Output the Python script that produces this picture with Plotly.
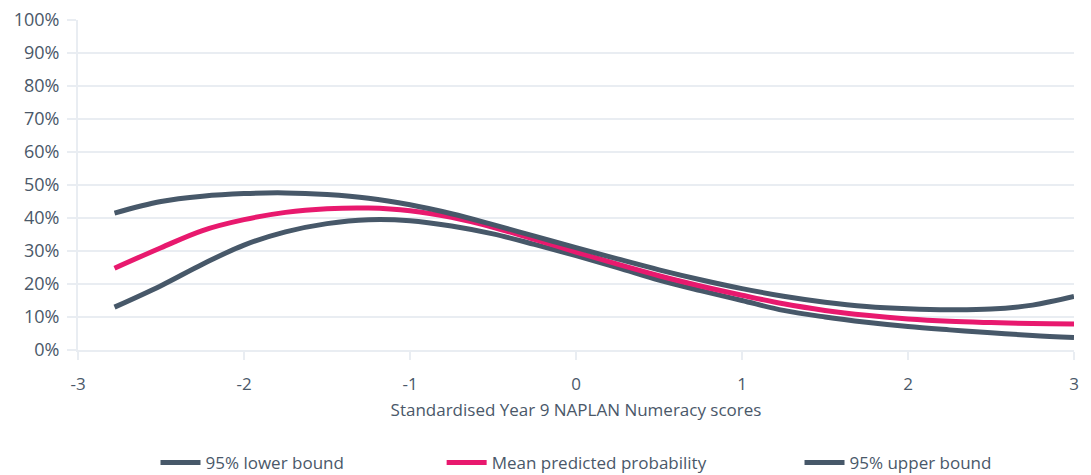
import plotly.graph_objects as go

x_scores = [-2.78, -2.5, -2.25, -2.0, -1.75, -1.5, -1.25, -1.0, -0.75, -0.5, -0.25, 0.0,
            0.25, 0.5, 0.75, 1.0, 1.25, 1.5, 1.75, 2.0, 2.25, 2.5, 2.75, 3.0]

lower_bound = [13.0, 19.5, 26.0, 31.8, 35.8, 38.3, 39.5, 39.2, 37.6, 35.2, 32.0, 28.6,
               25.0, 21.2, 18.0, 15.0, 12.0, 10.0, 8.4, 7.1, 6.1, 5.2, 4.4, 3.8]

mean_prob = [24.8, 31.0, 36.2, 39.5, 41.7, 42.8, 43.0, 42.2, 40.2, 37.2, 33.5, 29.7,
             26.0, 22.5, 19.4, 16.6, 14.0, 12.0, 10.5, 9.4, 8.7, 8.3, 8.0, 7.9]

upper_bound = [41.5, 45.0, 46.6, 47.4, 47.6, 47.1, 46.0, 44.0, 41.3, 38.0, 34.5, 31.0,
               27.6, 24.3, 21.3, 18.6, 16.3, 14.5, 13.2, 12.5, 12.2, 12.4, 13.6, 16.2]

series_names = ["95% lower bound", "Mean predicted probability", "95% upper bound"]
x_ticks = [-3, -2, -1, 0, 1, 2, 3]
y_ticks = list(range(0, 101, 10))

DARK = "#475869"
PINK = "#e8196e"
GRID = "#e9edf2"
TEXT = "#4a5869"
FONT = "Open Sans"

pads = ["\u00a0" * 21, "\u00a0" * 20, ""]

fig = go.Figure()
for name, vals, col, pad in zip(series_names, [lower_bound, mean_prob, upper_bound],
                                [DARK, PINK, DARK], pads):
    fig.add_trace(go.Scatter(
        x=x_scores, y=vals, mode="lines", name=name + pad,
        line=dict(color=col, width=5, shape="spline", smoothing=1.0),
        hoverinfo="skip",
    ))

fig.update_layout(
    width=1091, height=475,
    margin=dict(l=70, r=25, t=12, b=133, autoexpand=False),
    paper_bgcolor="white", plot_bgcolor="white",
    font=dict(family=FONT, size=17, color=TEXT),
    showlegend=True,
    legend=dict(orientation="h", x=0.5, xanchor="center", y=-0.342, yanchor="middle",
                font=dict(family=FONT, size=17, color=TEXT), itemwidth=40),
    xaxis=dict(
        range=[-3, 3], tickvals=x_ticks, ticktext=[str(v) for v in x_ticks],
        showgrid=False, zeroline=False, showline=True, linecolor=GRID, linewidth=2,
        ticks="outside", ticklen=8, tickcolor=GRID, tickwidth=2, automargin=False,
        ticklabelstandoff=10, ticklabeloverflow="allow",
        title=dict(text="Standardised Year 9 NAPLAN Numeracy scores", standoff=10,
                   font=dict(family=FONT, size=17, color=TEXT)),
        tickfont=dict(family=FONT, size=17, color=TEXT),
    ),
    yaxis=dict(
        range=[0, 100], tickvals=y_ticks, ticktext=[f"{v}%" for v in y_ticks],
        showgrid=True, gridcolor=GRID, gridwidth=2, zeroline=False,
        showline=True, linecolor=GRID, linewidth=2,
        ticks="outside", ticklen=9, tickcolor=GRID, tickwidth=2, automargin=False,
        ticklabelstandoff=4, ticklabeloverflow="allow",
        tickfont=dict(family=FONT, size=18, color=TEXT),
    ),
)

fig.write_html("out.html")
